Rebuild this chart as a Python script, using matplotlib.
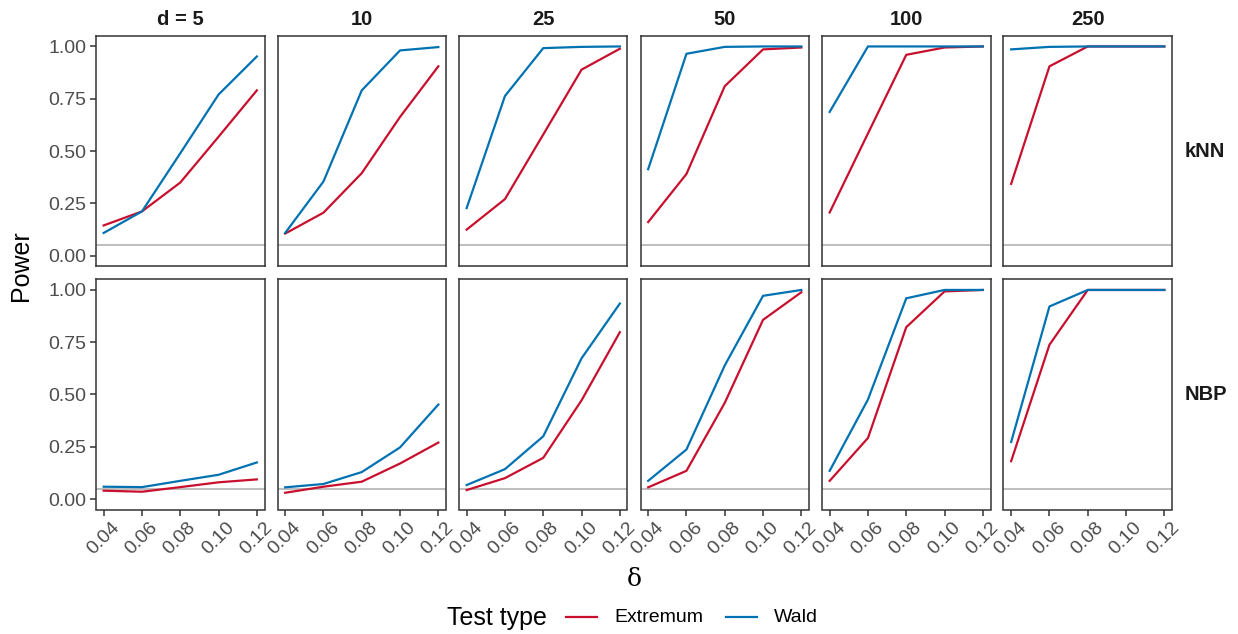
import matplotlib
matplotlib.use("Agg")
import matplotlib.pyplot as plt
import matplotlib.transforms as mtransforms
from matplotlib.lines import Line2D

delta = [0.04, 0.06, 0.08, 0.10, 0.12]
dims = ["d = 5", "10", "25", "50", "100", "250"]
methods = ["kNN", "NBP"]
x_ticks = [0.04, 0.06, 0.08, 0.10, 0.12]
x_ticklabels = ["0.04", "0.06", "0.08", "0.10", "0.12"]
y_ticks = [0.0, 0.25, 0.5, 0.75, 1.0]
y_ticklabels = ["0.00", "0.25", "0.50", "0.75", "1.00"]
alpha_level = 0.05
legend_labels = ["Extremum", "Wald"]

# kNN row
knn_extremum = [
    [0.144, 0.211, 0.349, 0.568, 0.790],
    [0.105, 0.205, 0.394, 0.663, 0.905],
    [0.124, 0.270, 0.579, 0.889, 0.989],
    [0.160, 0.390, 0.810, 0.986, 0.995],
    [0.206, 0.584, 0.960, 0.995, 1.000],
    [0.343, 0.905, 1.000, 1.000, 1.000],
]
knn_wald = [
    [0.108, 0.211, 0.489, 0.770, 0.952],
    [0.108, 0.354, 0.790, 0.981, 0.997],
    [0.227, 0.763, 0.992, 0.998, 1.000],
    [0.413, 0.965, 0.998, 1.000, 1.000],
    [0.687, 1.000, 1.000, 1.000, 1.000],
    [0.986, 0.998, 1.000, 1.000, 1.000],
]
# NBP row
nbp_extremum = [
    [0.040, 0.035, 0.057, 0.080, 0.094],
    [0.030, 0.059, 0.083, 0.170, 0.270],
    [0.043, 0.100, 0.197, 0.472, 0.798],
    [0.056, 0.135, 0.460, 0.857, 0.989],
    [0.087, 0.292, 0.822, 0.993, 1.000],
    [0.181, 0.738, 1.000, 1.000, 1.000],
]
nbp_wald = [
    [0.059, 0.057, 0.087, 0.116, 0.175],
    [0.056, 0.072, 0.129, 0.247, 0.452],
    [0.067, 0.143, 0.300, 0.673, 0.935],
    [0.087, 0.237, 0.639, 0.972, 1.000],
    [0.135, 0.476, 0.960, 1.000, 1.000],
    [0.273, 0.921, 1.000, 1.000, 1.000],
]

extremum = [knn_extremum, nbp_extremum]
wald = [knn_wald, nbp_wald]

RED = "#C8102E"
BLUE = "#0072B2"
GREY_REF = "#BEBEBE"
DARK = "#333333"
TICKTXT = "#4D4D4D"

W, H = 1238, 634
plt.rcParams["font.family"] = ["Liberation Sans", "DejaVu Sans"]
fig = plt.figure(figsize=(W / 100, H / 100), dpi=100)

lefts = [96, 277.5, 459, 640.5, 822, 1003.5]
pw = 168.5
tops = [36, 279.5]
ph = 230

def ax_rect(l, t):
    return [l / W, 1 - (t + ph) / H, pw / W, ph / H]

def fx(px):
    return px / W

def fy(py):
    return 1 - py / H

shift = mtransforms.ScaledTranslation(7 / 100, 0, fig.dpi_scale_trans)

for r in range(2):
    for c in range(6):
        ax = fig.add_axes(ax_rect(lefts[c], tops[r]))
        ax.axhline(alpha_level, color=GREY_REF, lw=1.4, zorder=1)
        ax.plot(delta, extremum[r][c], color=RED, lw=1.6, zorder=3)
        ax.plot(delta, wald[r][c], color=BLUE, lw=1.6, zorder=3)
        ax.set_xlim(0.036, 0.124)
        ax.set_ylim(-0.05, 1.05)
        ax.set_xticks(x_ticks)
        ax.set_yticks(y_ticks)
        for s in ax.spines.values():
            s.set_color(DARK)
            s.set_linewidth(1.1)
        ax.tick_params(color=DARK, length=4.5, width=1.1, labelcolor=TICKTXT,
                       labelsize=14, pad=2.5)
        if c == 0:
            ax.set_yticklabels(y_ticklabels)
        else:
            ax.set_yticklabels([])
            ax.tick_params(axis="y", length=0)
        if r == 1:
            ax.set_xticklabels(x_ticklabels, rotation=45, ha="right", va="top",
                               rotation_mode="anchor")
            for lab in ax.get_xticklabels():
                lab.set_transform(lab.get_transform() + shift)
        else:
            ax.set_xticklabels([])
            ax.tick_params(axis="x", length=0)
        if r == 0:
            ax.text(0.5, 1.03, dims[c], transform=ax.transAxes, ha="center", va="bottom",
                    fontsize=14.5, fontweight="bold", color="#1A1A1A")
        if c == 5:
            ax.text(1.075, 0.5, methods[r], transform=ax.transAxes, ha="left", va="center",
                    fontsize=14.5, fontweight="bold", color="#1A1A1A")

fig.text(fx(21), fy(266), "Power", rotation=90, ha="center", va="center", fontsize=18, color="black")
fig.text(fx(634), fy(579), "δ", ha="center", va="center", fontsize=18, color="black",
         family=["DejaVu Serif"])

# legend
fig.text(fx(447), fy(618), "Test type", ha="left", va="center", fontsize=18, color="black")
leg_x = [(566, 597), (726, 757)]
leg_text_x = [614, 774]
for (x0, x1), tx, col, lab in zip(leg_x, leg_text_x, [RED, BLUE], legend_labels):
    fig.add_artist(Line2D([fx(x0), fx(x1)], [fy(617), fy(617)], color=col, lw=1.6,
                          transform=fig.transFigure))
    fig.text(fx(tx), fy(618), lab, ha="left", va="center", fontsize=14, color="black")

fig.savefig("out.png", dpi=100)
